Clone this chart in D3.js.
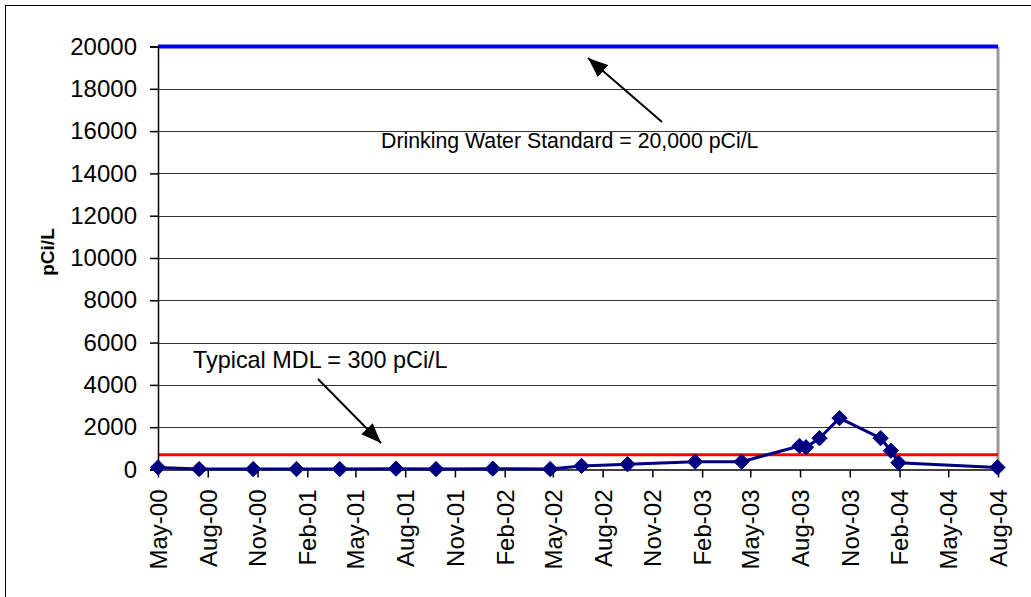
<!DOCTYPE html>
<html>
<head>
<meta charset="utf-8">
<script src="https://cdn.jsdelivr.net/npm/d3@7"></script>
<style>
  body { margin: 0; background: #fff; }
  svg { display: block; font-family: Arial, "Liberation Sans", sans-serif; }
</style>
</head>
<body>
<script>
// sample dates and tritium results (pCi/L)
const sampleDates = ["2000-05-01", "2000-07-16", "2000-10-24", "2001-01-12", "2001-04-02",
    "2001-07-15", "2001-09-27", "2002-01-10", "2002-04-26", "2002-06-23", "2002-09-16",
    "2003-01-19", "2003-04-15", "2003-07-31", "2003-08-12", "2003-09-06", "2003-10-13",
    "2003-12-28", "2004-01-16", "2004-01-30", "2004-07-31"];
const sampleValues = [100, 20, 20, 20, 20, 40, 20, 40, 20, 170, 250,
    370, 370, 1110, 1050, 1480, 2430, 1480, 890, 320, 100];

const tickLabels = ["May-00", "Aug-00", "Nov-00", "Feb-01", "May-01", "Aug-01", "Nov-01",
    "Feb-02", "May-02", "Aug-02", "Nov-02", "Feb-03", "May-03", "Aug-03", "Nov-03",
    "Feb-04", "May-04", "Aug-04"];
const yTicks = [0, 2000, 4000, 6000, 8000, 10000, 12000, 14000, 16000, 18000, 20000];

const drinkingStandard = 20000;
const mdlLine = 700;

const w = 1031, h = 597;
const plot = { left: 158, right: 998, top: 46.5, bottom: 469.5 };

const parseDay = d3.timeParse("%Y-%m-%d");
const parseTick = d3.timeParse("%b-%y");
const data = sampleDates.map((d, i) => ({ date: parseDay(d), value: sampleValues[i] }));
const tickDates = tickLabels.map(parseTick);

const svg = d3.select("body").append("svg")
    .attr("width", w)
    .attr("height", h);

// outer chart border
svg.append("rect")
    .attr("x", 5.5).attr("y", 5.5)
    .attr("width", 1100).attr("height", 700)
    .attr("fill", "#fff")
    .attr("stroke", "#000")
    .attr("stroke-width", 1);

const x = d3.scaleTime()
    .domain([tickDates[0], tickDates[tickDates.length - 1]])
    .range([plot.left, plot.right]);

const y = d3.scaleLinear()
    .domain([0, 20000])
    .range([plot.bottom, plot.top]);

// gridlines
svg.append("g")
    .selectAll("line")
    .data(yTicks.filter(d => d > 0))
    .enter()
    .append("line")
    .attr("x1", plot.left).attr("x2", plot.right)
    .attr("y1", d => Math.round(y(d)) + 0.5).attr("y2", d => Math.round(y(d)) + 0.5)
    .attr("stroke", "#333")
    .attr("stroke-width", 1);

// plot area right border
svg.append("line")
    .attr("x1", plot.right).attr("x2", plot.right)
    .attr("y1", plot.top).attr("y2", plot.bottom)
    .attr("stroke", "#999")
    .attr("stroke-width", 3);

// reference lines
svg.append("line")
    .attr("x1", plot.left).attr("x2", plot.right)
    .attr("y1", y(drinkingStandard)).attr("y2", y(drinkingStandard))
    .attr("stroke", "#0000ff")
    .attr("stroke-width", 4);

svg.append("line")
    .attr("x1", plot.left).attr("x2", plot.right)
    .attr("y1", y(mdlLine)).attr("y2", y(mdlLine))
    .attr("stroke", "#ff0000")
    .attr("stroke-width", 3);

// Y axis
const yAxis = d3.axisLeft(y)
    .tickValues(yTicks)
    .tickSize(8)
    .tickPadding(13)
    .tickFormat(d3.format("d"));

const yG = svg.append("g")
    .attr("transform", `translate(${plot.left}, 0)`)
    .call(yAxis);
yG.selectAll("text").attr("font-size", 24).attr("font-family", "Arial, 'Liberation Sans', sans-serif").attr("fill", "#000");
yG.selectAll("line, path").attr("stroke", "#000").attr("stroke-width", 1.5);

// X axis
const xAxis = d3.axisBottom(x)
    .tickValues(tickDates)
    .tickSize(8)
    .tickSizeOuter(0)
    .tickFormat(d3.timeFormat("%b-%y"));

const xG = svg.append("g")
    .attr("transform", `translate(0, ${plot.bottom})`)
    .call(xAxis);
xG.selectAll("line, path").attr("stroke", "#000").attr("stroke-width", 1.5);
xG.selectAll("text")
    .attr("font-size", 24)
    .attr("font-family", "Arial, 'Liberation Sans', sans-serif")
    .attr("fill", "#000")
    .attr("text-anchor", "end")
    .attr("transform", "rotate(-90)")
    .attr("x", -20)
    .attr("y", 0)
    .attr("dy", "0.35em");

// Y axis title
svg.append("text")
    .attr("transform", "translate(47, 252) rotate(-90)")
    .attr("text-anchor", "middle")
    .attr("dy", "0.35em")
    .attr("font-size", 19)
    .attr("font-weight", "bold")
    .text("pCi/L");

// data series
const line = d3.line()
    .x(d => x(d.date))
    .y(d => y(d.value));

svg.append("path")
    .datum(data)
    .attr("fill", "none")
    .attr("stroke", "#000080")
    .attr("stroke-width", 3)
    .attr("d", line);

svg.append("g")
    .selectAll("path")
    .data(data)
    .enter()
    .append("path")
    .attr("transform", d => `translate(${x(d.date)}, ${y(d.value)})`)
    .attr("d", d3.symbol().type(d3.symbolDiamond2).size(150))
    .attr("fill", "#000080")
    .attr("stroke", "#000080")
    .attr("stroke-width", 1);

// annotations
const defs = svg.append("defs");
defs.append("marker")
    .attr("id", "arrow")
    .attr("viewBox", "0 0 20 16")
    .attr("refX", 20).attr("refY", 8)
    .attr("markerWidth", 20).attr("markerHeight", 16)
    .attr("markerUnits", "userSpaceOnUse")
    .attr("orient", "auto")
    .append("path")
    .attr("d", "M0,0 L20,8 L0,16 Z")
    .attr("fill", "#000");

svg.append("line")
    .attr("x1", 662).attr("y1", 122)
    .attr("x2", 588).attr("y2", 58)
    .attr("stroke", "#000").attr("stroke-width", 2)
    .attr("marker-end", "url(#arrow)");

svg.append("line")
    .attr("x1", 318).attr("y1", 379)
    .attr("x2", 381).attr("y2", 443)
    .attr("stroke", "#000").attr("stroke-width", 2)
    .attr("marker-end", "url(#arrow)");

svg.append("text")
    .attr("x", 381).attr("y", 148)
    .attr("font-size", 21.3)
    .text("Drinking Water Standard = 20,000 pCi/L");

svg.append("text")
    .attr("x", 193).attr("y", 368)
    .attr("font-size", 23.4)
    .text("Typical MDL = 300 pCi/L");
</script>
</body>
</html>
